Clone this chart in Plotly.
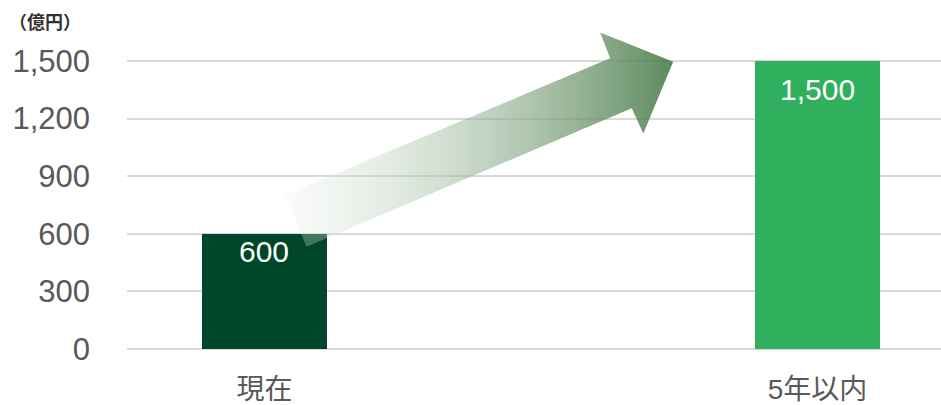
import base64
import plotly.graph_objects as go

# --- data -------------------------------------------------------------
categories = ["現在", "5年以内"]
values = [600, 1500]
bar_colors = ["#00472A", "#30B05C"]
label_drop_px = [-1, 10]         # offset of each value label below its bar top
y_ticks = [0, 300, 600, 900, 1200, 1500]
unit_label = "（億円）"

# growth arrow outline (x in category index units, y in 億円)
arrow_x = [0.037, 0.625, 0.607, 0.739, 0.685, 0.664, 0.076]
arrow_y = [802, 1514, 1649, 1496, 1123, 1254, 533]

FONT = "Liberation Sans, Arial, Noto Sans CJK JP, sans-serif"
CJK_FONT = "Noto Sans CJK JP, sans-serif"
TICK_GRAY = "#595959"
GRID = "#d9d9d9"

x_pos = list(range(len(categories)))

fig = go.Figure()
fig.add_trace(go.Bar(
    x=x_pos,
    y=values,
    width=0.226,
    marker=dict(color=bar_colors, line=dict(width=0)),
    hoverinfo="skip",
))

# value labels just inside the top of each bar
for xi, v, drop in zip(x_pos, values, label_drop_px):
    fig.add_annotation(
        x=xi, y=v, text=f"{v:,}", showarrow=False,
        xanchor="center", yanchor="top", yshift=-drop,
        font=dict(family=FONT, size=30, color="white"),
    )

# gradient-filled arrow rendered as an SVG image placed in data space
x0, x1 = min(arrow_x), max(arrow_x)
y0, y1 = min(arrow_y), max(arrow_y)
W = (x1 - x0) * 1000.0
H = (y1 - y0)
pts = " ".join(f"{(x - x0) * 1000.0:.2f},{(y1 - y):.2f}" for x, y in zip(arrow_x, arrow_y))
svg = (
    f'<svg xmlns="http://www.w3.org/2000/svg" viewBox="0 0 {W:.2f} {H:.2f}" '
    f'preserveAspectRatio="none" width="{W:.2f}" height="{H:.2f}">'
    '<defs><linearGradient id="g" x1="0" y1="0" x2="1" y2="0">'
    '<stop offset="0" stop-color="rgb(230,238,230)" stop-opacity="0.25"/>'
    '<stop offset="1" stop-color="rgb(75,125,75)" stop-opacity="0.9"/>'
    '</linearGradient></defs>'
    f'<polygon points="{pts}" fill="url(#g)"/></svg>'
)
src = "data:image/svg+xml;base64," + base64.b64encode(svg.encode("utf-8")).decode("ascii")
fig.add_layout_image(dict(
    source=src, xref="x", yref="y",
    x=x0, y=y1, sizex=x1 - x0, sizey=y1 - y0,
    xanchor="left", yanchor="top", sizing="stretch", layer="above",
))

fig.add_annotation(
    text="<b>" + unit_label + "</b>", xref="paper", yref="paper",
    x=-0.147, y=0.997, xanchor="left", yanchor="middle",
    showarrow=False, font=dict(family=CJK_FONT, size=18, color="#333333"),
)

fig.update_layout(
    width=941, height=405,
    margin=dict(l=127, r=0, t=20, b=56),
    paper_bgcolor="white", plot_bgcolor="white",
    showlegend=False,
    bargap=0,
    xaxis=dict(
        range=[-0.2486, 1.2233],
        tickvals=x_pos, ticktext=categories,
        showgrid=False, zeroline=False, showline=False, ticks="",
        tickfont=dict(family=FONT, size=28, color=TICK_GRAY),
        ticklabelstandoff=21,
        automargin=False,
        fixedrange=True,
    ),
    yaxis=dict(
        range=[0, 1713.5],
        tickvals=y_ticks, tickformat=",",
        showgrid=True, gridcolor=GRID, gridwidth=2,
        zeroline=True, zerolinecolor=GRID, zerolinewidth=2,
        showline=False, ticks="",
        tickfont=dict(family=FONT, size=31, color=TICK_GRAY),
        ticklabelstandoff=36,
        automargin=False,
        fixedrange=True,
    ),
)

fig.write_html("out.html")
